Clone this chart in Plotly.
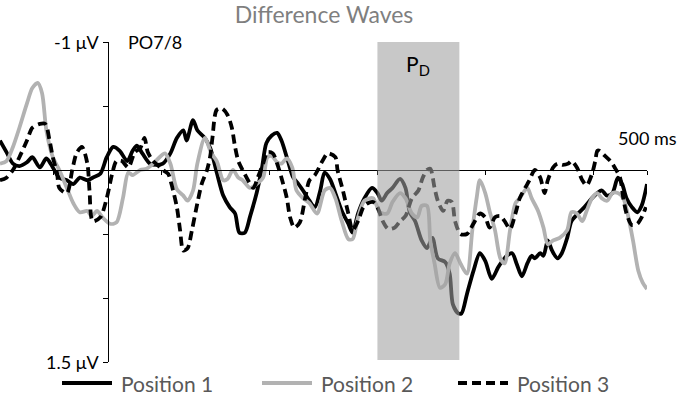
import plotly.graph_objects as go

# ---- data (time in ms, amplitude in microvolts; negative plotted up) ----
t_pos1 = [-100, -94, -88, -82, -75, -70, -63, -57, -51, -45, -38, -32, -26, -19, -14, -7, -1, 5, 11, 18,
          23, 27, 32, 39, 45, 51, 58, 64, 70, 73, 79, 83, 90, 95, 101, 107, 113, 118, 122, 127,
          132, 138, 143, 147, 152, 157, 161, 167, 172, 176, 181, 187, 192, 197, 201, 206, 211, 217, 223, 227,
          232, 238, 245, 250, 254, 259, 264, 271, 276, 280, 285, 291, 296, 301, 306, 313, 317, 320, 325, 328,
          333, 339, 345, 350, 356, 362, 366, 370, 375, 379, 384, 389, 393, 396, 401, 404, 408, 412, 417, 421,
          426, 430, 436, 442, 449, 454, 458, 463, 468, 473, 477, 481, 486, 491, 495, 500]
v_pos1 = [-0.23, -0.14, -0.05, -0.03, -0.06, -0.10, -0.02, -0.09, -0.02, 0.06, 0.08, 0.11, 0.06, 0.08, 0.06, 0.03, -0.10, -0.18, -0.15, -0.07,
          -0.15, -0.19, -0.13, -0.05, -0.04, -0.05, -0.13, -0.25, -0.31, -0.23, -0.39, -0.31, -0.25, -0.17, 0.02, 0.20, 0.29, 0.34, 0.49, 0.49,
          0.36, 0.18, -0.02, -0.21, -0.27, -0.29, -0.23, -0.07, 0.06, 0.10, 0.16, 0.24, 0.29, 0.16, 0.02, 0.07, 0.18, 0.32, 0.42, 0.49,
          0.34, 0.22, 0.14, 0.18, 0.24, 0.18, 0.14, 0.07, 0.14, 0.33, 0.40, 0.55, 0.61, 0.53, 0.69, 0.72, 0.81, 1.05, 1.12, 1.12,
          0.97, 0.79, 0.65, 0.71, 0.85, 0.76, 0.71, 0.67, 0.65, 0.73, 0.83, 0.73, 0.67, 0.69, 0.65, 0.67, 0.55, 0.63, 0.69, 0.65,
          0.53, 0.40, 0.34, 0.29, 0.22, 0.18, 0.16, 0.20, 0.18, 0.06, 0.11, 0.22, 0.29, 0.33, 0.28, 0.11]

t_pos2 = [-100, -94, -88, -82, -75, -70, -65, -61, -57, -51, -45, -38, -32, -26, -19, -15, -10, -5, 2, 8,
          14, 19, 23, 30, 36, 42, 48, 53, 58, 64, 70, 74, 79, 83, 90, 96, 101, 107, 111, 116,
          121, 125, 132, 138, 144, 148, 152, 157, 161, 166, 171, 175, 181, 187, 194, 201, 206, 211, 217, 223,
          227, 232, 238, 246, 252, 259, 264, 271, 276, 282, 287, 291, 296, 299, 303, 308, 313, 317, 322, 327,
          333, 338, 342, 345, 350, 354, 359, 364, 368, 373, 378, 382, 389, 393, 399, 404, 408, 413, 419, 426,
          430, 435, 440, 444, 449, 454, 458, 463, 468, 473, 478, 482, 487, 492, 496, 500]
v_pos2 = [-0.05, -0.07, -0.18, -0.33, -0.52, -0.64, -0.68, -0.60, -0.31, -0.10, 0.00, 0.14, 0.26, 0.33, 0.32, 0.36, 0.32, 0.37, 0.42, 0.41,
          0.22, 0.02, 0.04, 0.00, -0.01, -0.05, -0.10, -0.13, -0.05, 0.15, 0.20, 0.24, 0.16, -0.05, -0.25, -0.13, -0.07, 0.08, 0.07, 0.00,
          0.06, 0.08, 0.14, 0.11, 0.06, -0.10, -0.11, -0.06, -0.05, -0.09, -0.02, 0.16, 0.22, 0.26, 0.34, 0.16, 0.14, 0.22, 0.40, 0.54,
          0.54, 0.37, 0.24, 0.22, 0.33, 0.34, 0.25, 0.18, 0.22, 0.34, 0.37, 0.28, 0.28, 0.55, 0.73, 0.92, 0.89, 0.73, 0.65, 0.73,
          0.81, 0.47, 0.22, 0.08, 0.18, 0.32, 0.47, 0.69, 0.73, 0.47, 0.26, 0.22, 0.14, 0.22, 0.32, 0.45, 0.58, 0.55, 0.53, 0.47,
          0.33, 0.34, 0.40, 0.32, 0.22, 0.18, 0.22, 0.24, 0.18, 0.18, 0.22, 0.34, 0.55, 0.79, 0.88, 0.93]

t_pos3 = [-100, -94, -88, -82, -75, -70, -63, -58, -54, -51, -47, -45, -38, -33, -29, -24, -19, -17, -14, -7,
          -1, 4, 8, 13, 19, 25, 30, 34, 37, 42, 46, 51, 56, 59, 64, 67, 70, 74, 78, 83,
          87, 92, 95, 97, 101, 106, 111, 115, 118, 121, 125, 130, 135, 139, 144, 148, 153, 157, 161, 166,
          169, 173, 178, 183, 187, 192, 199, 204, 211, 213, 218, 223, 227, 232, 237, 241, 246, 250, 255, 260,
          266, 271, 276, 282, 288, 292, 296, 299, 303, 306, 311, 315, 319, 322, 327, 333, 339, 345, 350, 354,
          359, 364, 368, 373, 378, 382, 389, 391, 396, 401, 405, 408, 413, 417, 422, 427, 430, 435, 440, 444,
          449, 452, 454, 456, 461, 466, 470, 475, 478, 481, 486, 491, 495, 499]
v_pos3 = [0.08, 0.06, 0.00, -0.10, -0.23, -0.33, -0.36, -0.36, -0.23, -0.10, 0.03, 0.14, 0.18, 0.00, -0.13, -0.18, -0.05, 0.16, 0.40, 0.37,
          0.22, 0.03, -0.07, -0.07, -0.02, -0.14, -0.17, -0.25, -0.14, -0.07, -0.04, 0.00, 0.03, 0.11, 0.29, 0.47, 0.63, 0.61, 0.47, 0.26,
          0.11, 0.00, -0.11, -0.25, -0.47, -0.48, -0.43, -0.33, -0.18, -0.07, 0.00, 0.08, 0.14, 0.06, -0.05, -0.14, -0.13, -0.05, 0.06, 0.22,
          0.37, 0.45, 0.41, 0.22, 0.08, 0.04, -0.07, -0.13, -0.10, 0.00, 0.16, 0.34, 0.47, 0.40, 0.29, 0.26, 0.25, 0.29, 0.40, 0.46,
          0.45, 0.40, 0.36, 0.22, 0.16, 0.06, 0.00, -0.01, 0.14, 0.24, 0.32, 0.24, 0.25, 0.40, 0.50, 0.50, 0.42, 0.34, 0.37, 0.45,
          0.37, 0.36, 0.40, 0.46, 0.34, 0.22, 0.11, 0.08, 0.00, 0.06, 0.18, 0.08, -0.02, -0.05, -0.04, -0.05, -0.07, -0.02, 0.08, 0.12,
          0.03, -0.07, -0.15, -0.15, -0.11, -0.07, -0.02, 0.06, 0.22, 0.34, 0.43, 0.42, 0.37, 0.29]

series_names = ["Position 1", "Position 2", "Position 3"]
y_tick_vals = [-1, -0.5, 0, 0.5, 1, 1.5]
y_end_labels = {-1: "-1 μV", 1.5: "1.5 μV"}
x_tick_vals = [-50, 50, 150, 250, 350, 450, 500]
pd_window = [250, 326]

W, H = 685, 402
ML, MR, MT, MB = 0, 38, 42, 40
PW = W - ML - MR
PH = H - MT - MB
FONT = "Lato"

def px(X):
    return (X - ML) / PW

def py(Y):
    return (H - MB - Y) / PH

colors = ["#000000", "#b2b2b2", "#000000"]
dashes = ["solid", "solid", "9px,5px"]
series = [(t_pos1, v_pos1), (t_pos2, v_pos2), (t_pos3, v_pos3)]

fig = go.Figure()
for (tt, vv), name, c, d in zip(series, series_names, colors, dashes):
    fig.add_trace(go.Scatter(x=tt, y=vv, mode="lines", name=name, showlegend=False,
                             line=dict(color=c, width=3.8, dash=d, shape="spline", smoothing=0.8)))

# P_D window (semi-transparent, drawn above lines)
fig.add_shape(type="rect", xref="x", yref="y", x0=pd_window[0], x1=pd_window[1], y0=-1.055, y1=1.485,
              fillcolor="rgba(160,160,160,0.58)", line=dict(width=0), layer="above")

fig.add_annotation(x=(pd_window[0] + pd_window[1]) / 2, y=-0.82, xref="x", yref="y",
                   text="P<sub>D</sub>", showarrow=False, font=dict(family=FONT, size=21, color="#000"))
fig.add_annotation(x=44, y=-1, xref="x", yref="y", text="PO7/8", showarrow=False,
                   font=dict(family=FONT, size=18, color="#000"))
fig.add_annotation(x=500, y=-0.25, xref="x", yref="y", text="500 ms", showarrow=False,
                   font=dict(family=FONT, size=18, color="#000"))

# y-axis end labels
for val, lab in y_end_labels.items():
    fig.add_annotation(x=0, y=val, xref="x", yref="y", text=lab, showarrow=False,
                       xanchor="right", yanchor="middle", xshift=-7,
                       font=dict(family=FONT, size=18, color="#000"))

# legend (drawn manually to keep the reference's spacing)
leg_line_x = [62, 262, 458]
leg_y = 383
for lx, name, c, d in zip(leg_line_x, series_names, colors, dashes):
    fig.add_shape(type="line", xref="paper", yref="paper", x0=px(lx), x1=px(lx + 50),
                  y0=py(leg_y), y1=py(leg_y), line=dict(color=c, width=3.8, dash=d))
    fig.add_annotation(x=px(lx + 57), y=py(leg_y), xref="paper", yref="paper", text=name,
                       showarrow=False, xanchor="left", yanchor="middle",
                       font=dict(family=FONT, size=21, color="#595959"))

fig.update_layout(
    width=W, height=H,
    margin=dict(l=ML, r=MR, t=MT, b=MB, autoexpand=False),
    paper_bgcolor="white", plot_bgcolor="white",
    title=dict(text="Difference Waves", x=324 / W, xanchor="center", xref="container",
               y=1 - 15 / H, yanchor="middle", yref="container",
               font=dict(family=FONT, size=23, color="#7f7f7f")),
    showlegend=False,
    xaxis=dict(range=[-100, 500], anchor="free", position=0.6, showline=True, linecolor="#000",
               linewidth=1, ticks="outside", ticklen=4, tickcolor="#000", tickvals=x_tick_vals,
               showticklabels=False, showgrid=False, zeroline=False, fixedrange=True, automargin=False),
    yaxis=dict(range=[1.5, -1], anchor="free", position=1 / 6, showline=True, linecolor="#000",
               linewidth=1, ticks="outside", ticklen=5, tickcolor="#000", tickvals=y_tick_vals,
               showticklabels=False, showgrid=False, zeroline=False, fixedrange=True, automargin=False),
)

fig.write_html("out.html", config={"displayModeBar": False},
               post_script="document.body.style.margin='0';document.body.style.padding='0';")
